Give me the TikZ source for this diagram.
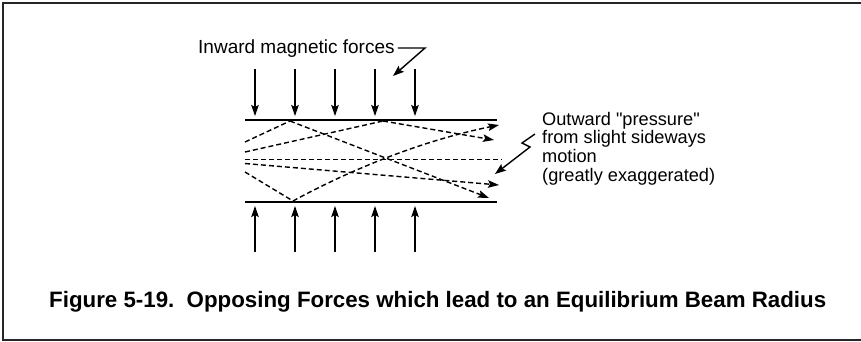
\documentclass[tikz,border=0pt]{standalone}
\usepackage{fontspec}
\setmainfont{Liberation Sans}[Ligatures=TeXOff]
\usetikzlibrary{arrows.meta}
\tikzset{
  frameline/.style={line width=1.4pt, draw=black!85},
  plate/.style={line width=2pt},
  force/.style={line width=1.4pt, -{Stealth[length=11pt,width=7.5pt,inset=2pt]}},
  ray/.style={line width=1.4pt, dash pattern=on 5pt off 3pt},
  rayarrow/.style={ray, -{Stealth[length=11pt,width=7.5pt,inset=2pt]}},
  pointer/.style={line width=1.4pt, -{Stealth[length=11pt,width=8pt,inset=2pt]}},
  lbl/.style={inner sep=0pt, anchor=base west, font=\fontsize{19}{19}\selectfont},
  rlbl/.style={inner sep=0pt, anchor=base west, font=\fontsize{18.2}{19}\selectfont},
}
\begin{document}
\begin{tikzpicture}[x=1pt,y=-1pt]
\useasboundingbox (0,0) rectangle (861,341);
% frame
\draw[frameline] (3,341) -- (3,3) -- (861,3);
\draw[frameline] (3,340) -- (861,340);
% plates
\coordinate (tl) at (245,120); \coordinate (tr) at (497,120);
\coordinate (bl) at (245,202); \coordinate (br) at (497,202);
\draw[plate] (tl) -- (tr);
\draw[plate] (bl) -- (br);
% force arrows
\foreach \i/\x in {1/255,2/295,3/335,4/375,5/415}{
  \coordinate (dt\i) at (\x,69); \coordinate (db\i) at (\x,116);
  \coordinate (ut\i) at (\x,206); \coordinate (ub\i) at (\x,252);
  \draw[force] (dt\i) -- (db\i);
  \draw[force] (ub\i) -- (ut\i);
}
% rays
\coordinate (a0) at (245,142); \coordinate (a1) at (290,121); \coordinate (a2) at (489,198);
\coordinate (b0) at (245,152); \coordinate (b1) at (383,121); \coordinate (b2) at (494,140);
\coordinate (c0) at (245,159.5); \coordinate (c1) at (502,159.5);
\coordinate (d0) at (245,163.5); \coordinate (d1) at (499,185);
\coordinate (e0) at (245,172); \coordinate (e1) at (293,201); \coordinate (e2) at (499,125);
\draw[ray] (a0) -- (a1);
\draw[rayarrow] (a1) -- (a2);
\draw[ray] (b0) -- (b1);
\draw[rayarrow] (b1) -- (b2);
\draw[ray] (c0) -- (c1);
\draw[rayarrow] (d0) -- (d1);
\draw[ray] (e0) -- (e1);
\draw[rayarrow] (e1) .. controls (335,178) and (410,143) .. (e2);
% labels
\node[lbl] (inward) at (198,53) {Inward magnetic forces};
\coordinate (ip1) at (425,48); \coordinate (ip2) at (393,76);
\draw[pointer] ([xshift=3pt]inward.east |- 0,48) -- (ip1) -- (ip2);
\node[rlbl] (o1) at (542,125) {Outward "pressure"};
\node[rlbl] (o2) at (542,143.5) {from slight sideways};
\node[rlbl] (o3) at (542,162.5) {motion};
\node[rlbl] (o4) at (542,181.5) {(greatly exaggerated)};
\coordinate (q1) at (535,134); \coordinate (q2) at (522,143); \coordinate (q3) at (530,147); \coordinate (q4) at (495,174);
\draw[pointer] (q1) -- (q2) -- (q3) -- (q4);
% caption
\node[inner sep=0pt, anchor=base west, font=\fontsize{22.3}{23}\selectfont\bfseries] (cap) at (49,307)
  {Figure 5-19.\ \ Opposing Forces which lead to an Equilibrium Beam Radius};
\end{tikzpicture}
\end{document}
